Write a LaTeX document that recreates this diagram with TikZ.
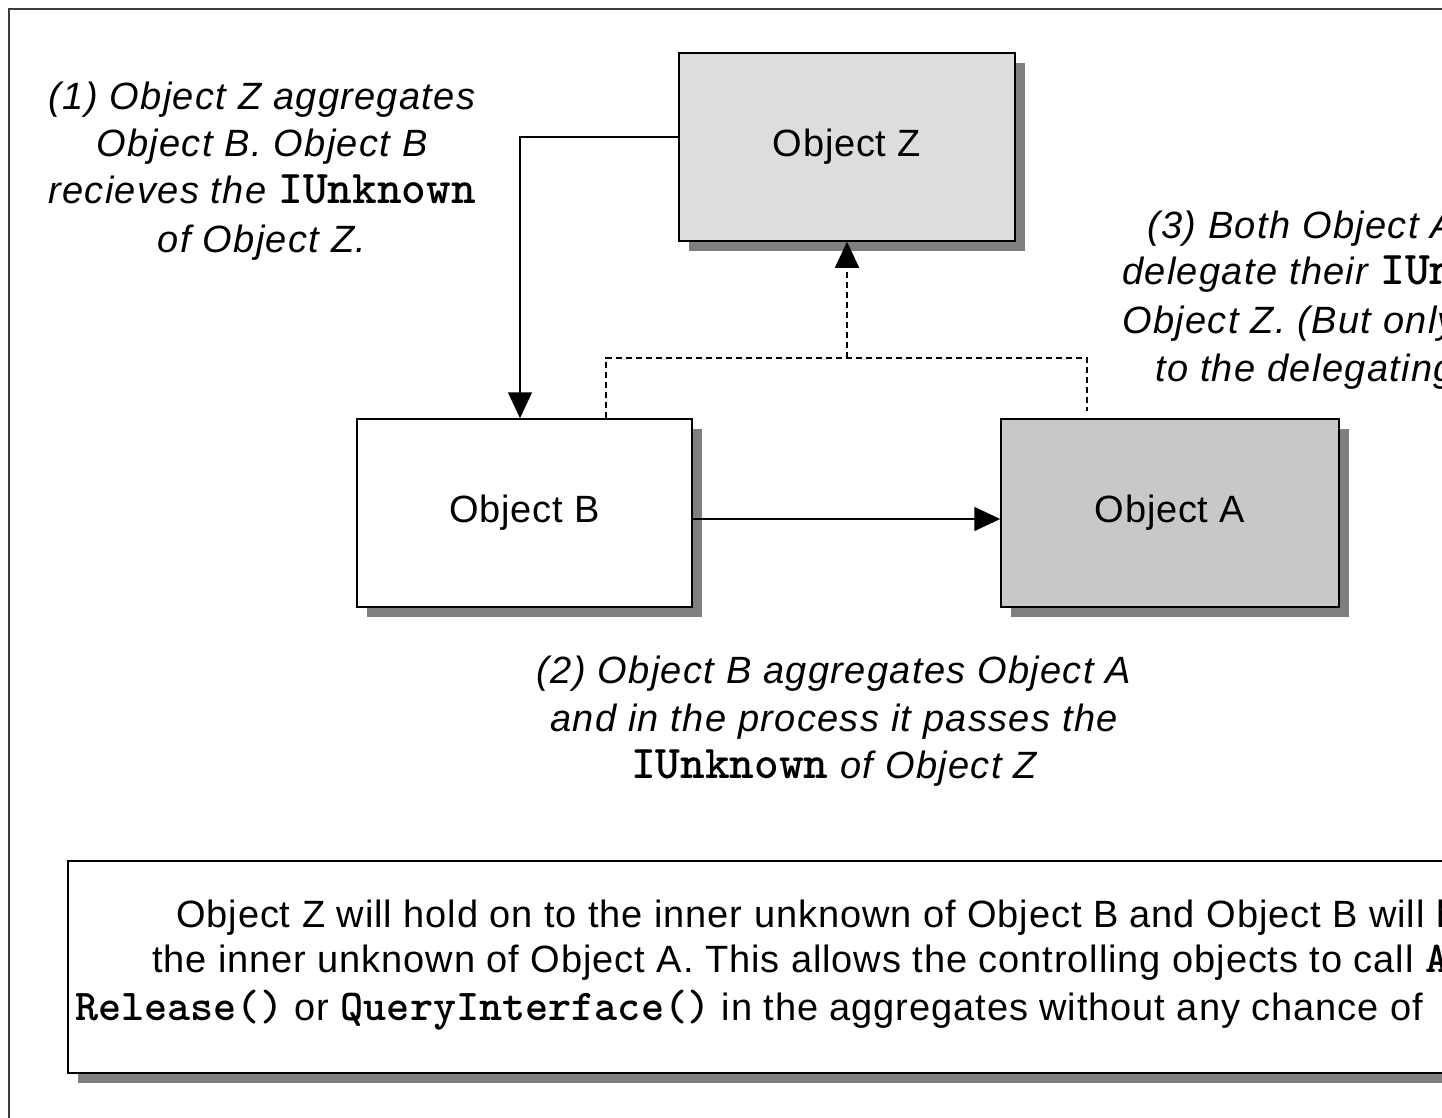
\documentclass[tikz,border=0pt]{standalone}
\usepackage{fontspec}
\setmainfont{Liberation Sans}
\usetikzlibrary{arrows.meta,shadows}
\definecolor{framegray}{HTML}{3C3C3C}
\definecolor{shadowgray}{HTML}{7F7F7F}
\definecolor{zfill}{HTML}{DDDDDD}
\definecolor{afill}{HTML}{C8C8C8}
\newcommand\codeword[1]{{\ttfamily\bfseries #1}}
\begin{document}
\begin{tikzpicture}[x=1pt,y=-1pt,
  objbox/.style={draw=black,line width=1.5pt,minimum width=336pt,minimum height=188pt,
    inner sep=0pt,font=\fontsize{38}{46}\selectfont\addfontfeatures{LetterSpace=2},
    drop shadow={shadow xshift=10pt,shadow yshift=-10pt,fill=shadowgray,opacity=1}},
  notebox/.style={draw=black,line width=1.5pt,fill=white,inner sep=0pt,
    drop shadow={shadow xshift=10pt,shadow yshift=-10pt,fill=shadowgray,opacity=1}},
  connector/.style={line width=1.5pt,-{Triangle[length=26pt,width=24pt]}},
  dashedlink/.style={line width=1.5pt,dash pattern=on 6pt off 4pt},
  labelline/.style={anchor=base,inner sep=0pt,
    font=\fontsize{38}{46}\selectfont\itshape\addfontfeatures{LetterSpace=3.5}},
  noteline/.style={anchor=base west,inner sep=0pt,
    font=\fontsize{38}{45}\selectfont\addfontfeatures{LetterSpace=2.4}},
]
\useasboundingbox (0,0) rectangle (1442,1118);
\clip (0,0) rectangle (1442,1118);

% outer frame (runs past the right and bottom edges)
\draw[framegray,line width=2.5pt] (9,1200) -- (9,9) -- (1500,9);

% the three objects
\node[objbox,fill=zfill] (Z) at (847,147) {Object Z};
\node[objbox,fill=white,minimum width=335pt] (B) at (524.5,513) {Object B};
\node[objbox,fill=afill,minimum width=338pt] (A) at (1170,513) {Object A};

% connectors
\draw[connector] ([yshift=10pt]Z.west) -| ([xshift=-4.5pt]B.north);
\draw[connector] ([yshift=-6pt]B.east) -- ([yshift=-6pt]A.west);
\coordinate (junc) at (847,358);
\draw[dashedlink] ([xshift=81.5pt]B.north) |- (junc) -| ([xshift=-83pt,yshift=7pt]A.north);
\draw[dashedlink,-{Triangle[length=26pt,width=24pt]}] (junc) -- (Z.south);

% note (1)
\node[labelline] (n1a) at (262,110) {(1) Object Z aggregates};
\node[labelline] (n1b) at (262,157) {Object B. Object B};
\node[labelline] (n1c) at (262,204) {recieves the \codeword{\upshape\fontsize{47}{46}\selectfont IUnknown}};
\node[labelline] (n1d) at (262,252) {of Object Z.};

% note (2)
\node[labelline] (n2a) at (834,683) {(2) Object B aggregates Object A};
\node[labelline] (n2b) at (834,731) {and in the process it passes the};
\node[labelline] (n2c) at (834,778) {\codeword{\upshape\fontsize{47}{46}\selectfont IUnknown} of Object Z};

% note (3)
\node[labelline,anchor=base west] (n3a) at (1147,238) {(3) Both Object A and B};
\node[labelline,anchor=base west] (n3b) at (1122,284) {delegate their \codeword{\upshape\fontsize{47}{46}\selectfont IUnknown}};
\node[labelline,anchor=base west] (n3c) at (1122,333) {Object Z. (But only};
\node[labelline,anchor=base west] (n3d) at (1155,381) {to the delegating};

% summary box
\node[notebox,minimum width=1600pt,minimum height=212pt,anchor=north west] (note) at (67,860) {};
\node[noteline] (s1) at (176,927) {Object Z will hold on to the inner unknown of Object B and Object B will hold};
\node[noteline] (s2) at (152,972) {the inner unknown of Object A. This allows the controlling objects to call \codeword{\fontsize{44}{45}\selectfont AddRef()}};
\node[noteline] (s3) at (75,1020) {\codeword{\fontsize{44}{45}\selectfont Release()} or \codeword{\fontsize{44}{45}\selectfont QueryInterface()} in the aggregates without any chance of};
\end{tikzpicture}
\end{document}
